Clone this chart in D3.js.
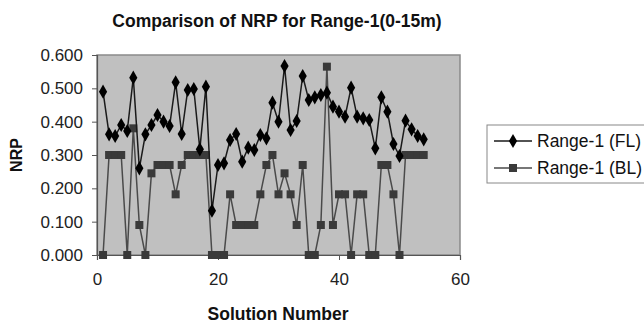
<!DOCTYPE html>
<html>
<head>
<meta charset="utf-8">
<script src="https://d3js.org/d3.v7.min.js"></script>
<style>
  body { margin: 0; background: #fff; }
  text { font-family: "Liberation Sans", Arial, sans-serif; }
</style>
</head>
<body>
<svg id="chart" width="644" height="323"></svg>
<script>
// solution numbers 1..54
var solutions = d3.range(1, 55)

var rangeFL = [0.490, 0.362, 0.357, 0.390, 0.372, 0.532, 0.260, 0.362, 0.390, 0.420,
  0.400, 0.387, 0.518, 0.363, 0.495, 0.498, 0.317, 0.505, 0.133, 0.270,
  0.275, 0.345, 0.363, 0.280, 0.322, 0.315, 0.360, 0.350, 0.457, 0.400,
  0.567, 0.375, 0.402, 0.537, 0.465, 0.473, 0.480, 0.487, 0.445, 0.430,
  0.415, 0.502, 0.415, 0.410, 0.405, 0.320, 0.473, 0.430, 0.333, 0.297,
  0.403, 0.377, 0.357, 0.347]

var rangeBL = [0.000, 0.300, 0.300, 0.300, 0.000, 0.380, 0.090, 0.000, 0.245, 0.270,
  0.270, 0.270, 0.182, 0.270, 0.300, 0.300, 0.300, 0.300, 0.000, 0.000,
  0.000, 0.182, 0.090, 0.090, 0.090, 0.090, 0.182, 0.270, 0.300, 0.182,
  0.245, 0.182, 0.090, 0.270, 0.000, 0.000, 0.090, 0.565, 0.090, 0.182,
  0.182, 0.000, 0.182, 0.182, 0.000, 0.000, 0.270, 0.270, 0.182, 0.000,
  0.300, 0.300, 0.300, 0.300]

var xTicks = [0, 20, 40, 60]
var yTicks = [0, 0.1, 0.2, 0.3, 0.4, 0.5, 0.6]
var seriesNames = ["Range-1 (FL)", "Range-1 (BL)"]

var svg = d3.select("#chart")
var plotLeft = 97, plotRight = 460, plotTop = 55, plotBottom = 255

var x = d3.scaleLinear().domain([0, 60]).range([plotLeft, plotRight])
var y = d3.scaleLinear().domain([0, 0.6]).range([plotBottom, plotTop])

// plot area
svg.append("rect")
  .attr("x", plotLeft).attr("y", plotTop)
  .attr("width", plotRight - plotLeft).attr("height", plotBottom - plotTop)
  .attr("fill", "#c0c0c0")
  .attr("stroke", "#8a8a8a")
  .attr("stroke-width", 1.5)

// axes
var yAxis = svg.append("g")
  .attr("transform", "translate(" + plotLeft + ",0)")
  .call(d3.axisLeft(y).tickValues(yTicks).tickFormat(d3.format(".3f")).tickSize(5).tickPadding(9))
var xAxis = svg.append("g")
  .attr("transform", "translate(0," + plotBottom + ")")
  .call(d3.axisBottom(x).tickValues(xTicks).tickSize(5).tickPadding(13))

;[xAxis, yAxis].forEach(function (g) {
  g.select(".domain").attr("stroke", "#555").attr("stroke-width", 1.2)
  g.selectAll(".tick line").attr("stroke", "#555")
  g.selectAll(".tick text")
    .attr("font-size", 17)
    .attr("fill", "#222")
    .style("font-family", "Liberation Sans, Arial, sans-serif")
})

// lines
var line = function (vals) {
  return d3.line()
    .x(function (d, i) { return x(solutions[i]) })
    .y(function (d) { return y(d) })(vals)
}

svg.append("path")
  .attr("d", line(rangeBL))
  .attr("fill", "none")
  .attr("stroke", "#4a4a4a")
  .attr("stroke-width", 1.5)

svg.append("g").selectAll("rect")
  .data(rangeBL)
  .join("rect")
  .attr("x", function (d, i) { return x(solutions[i]) - 4 })
  .attr("y", function (d) { return y(d) - 4 })
  .attr("width", 8).attr("height", 8)
  .attr("fill", "#3a3a3a")

svg.append("path")
  .attr("d", line(rangeFL))
  .attr("fill", "none")
  .attr("stroke", "#1a1a1a")
  .attr("stroke-width", 1.5)

var diamond = d3.symbol().type(d3.symbolDiamond).size(58)
svg.append("g").selectAll("path")
  .data(rangeFL)
  .join("path")
  .attr("d", diamond)
  .attr("transform", function (d, i) { return "translate(" + x(solutions[i]) + "," + y(d) + ")" })
  .attr("fill", "#000")

// title and axis titles
svg.append("text")
  .attr("x", 277).attr("y", 27)
  .attr("text-anchor", "middle")
  .attr("font-size", 17.5).attr("font-weight", "bold")
  .attr("fill", "#111")
  .text("Comparison of NRP for Range-1(0-15m)")

svg.append("text")
  .attr("x", 278).attr("y", 320)
  .attr("text-anchor", "middle")
  .attr("font-size", 17.5).attr("font-weight", "bold")
  .attr("fill", "#111")
  .text("Solution Number")

svg.append("text")
  .attr("transform", "translate(22," + ((plotTop + plotBottom) / 2) + ") rotate(-90)")
  .attr("text-anchor", "middle")
  .attr("font-size", 16).attr("font-weight", "bold")
  .attr("fill", "#111")
  .text("NRP")

// legend
svg.append("rect")
  .attr("x", 487).attr("y", 125)
  .attr("width", 170).attr("height", 58)
  .attr("fill", "#fff")
  .attr("stroke", "#888")
  .attr("stroke-width", 1)

seriesNames.forEach(function (name, i) {
  var ly = 141 + i * 27
  svg.append("line")
    .attr("x1", 494).attr("x2", 532)
    .attr("y1", ly).attr("y2", ly)
    .attr("stroke", i === 0 ? "#1a1a1a" : "#4a4a4a")
    .attr("stroke-width", 1.5)
  if (i === 0) {
    svg.append("path")
      .attr("d", diamond)
      .attr("transform", "translate(513," + ly + ")")
      .attr("fill", "#000")
  } else {
    svg.append("rect")
      .attr("x", 509).attr("y", ly - 4)
      .attr("width", 8).attr("height", 8)
      .attr("fill", "#3a3a3a")
  }
  svg.append("text")
    .attr("x", 537).attr("y", ly + 6)
    .attr("font-size", 17.5)
    .attr("fill", "#111")
    .text(name)
})
</script>
</body>
</html>
